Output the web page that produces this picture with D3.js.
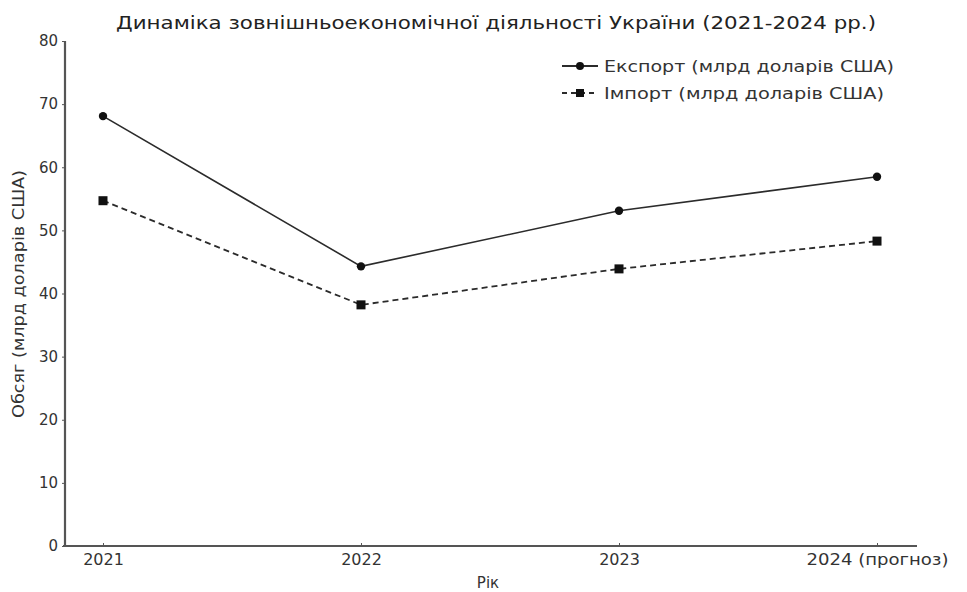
<!DOCTYPE html>
<html>
<head>
<meta charset="utf-8">
<script src="https://cdn.jsdelivr.net/npm/d3@7"></script>
<style>
  html, body { margin: 0; padding: 0; background: #fff; }
  svg { display: block; font-family: "DejaVu Sans", sans-serif; }
</style>
</head>
<body>
<svg id="chart" width="967" height="592"></svg>
<script>
// Data
const years = ["2021", "2022", "2023", "2024 (прогноз)"];
const exportValues = [68.1, 44.3, 53.1, 58.5];
const importValues = [54.7, 38.2, 43.9, 48.3];
const yTicks = [0, 10, 20, 30, 40, 50, 60, 70, 80];
const seriesNames = ["Експорт (млрд доларів США)", "Імпорт (млрд доларів США)"];

const svg = d3.select("#chart");
const x0 = 63, x1 = 917;
const y0 = 546, y1 = 41;

const x = d3.scalePoint().domain(years).range([x0, x1]).padding(0.155);
const y = d3.scaleLinear().domain([0, 80]).range([y0, y1]);

const ink = "#2b2b2b";
const axisColor = "#555";

// Y axis
const yAxis = svg.append("g").attr("transform", `translate(${65},0)`)
  .call(d3.axisLeft(y).tickValues(yTicks).tickSize(3).tickPadding(4));
yAxis.select(".domain").attr("stroke", axisColor).attr("stroke-width", 2.2)
  .attr("d", `M0,${y1}V${y0}`);
yAxis.selectAll(".tick line").attr("stroke", axisColor).attr("stroke-width", 1);
yAxis.selectAll(".tick text").attr("fill", "#333").style("font-size", "15px")
  .style("font-family", "DejaVu Sans, sans-serif");

// X axis
const xAxis = svg.append("g").attr("transform", `translate(0,${y0})`)
  .call(d3.axisBottom(x).tickSizeInner(-3).tickSizeOuter(0).tickPadding(8));
xAxis.select(".domain").attr("stroke", axisColor).attr("stroke-width", 2.2)
  .attr("d", `M${x0},0H${x1}`);
xAxis.selectAll(".tick line").attr("stroke", axisColor).attr("stroke-width", 1);
xAxis.selectAll(".tick text").attr("fill", "#333").style("font-size", "16px")
  .style("font-family", "DejaVu Sans, sans-serif")
  .each(function (d) {
    // the long forecast label is set a little wider
    if (d.length > 4) d3.select(this).attr("textLength", 142).attr("lengthAdjust", "spacingAndGlyphs");
  });

// Lines
const line = d3.line().x((d, i) => x(years[i])).y(d => y(d));

svg.append("path").datum(exportValues)
  .attr("d", line).attr("fill", "none").attr("stroke", ink).attr("stroke-width", 1.6);
svg.append("path").datum(importValues)
  .attr("d", line).attr("fill", "none").attr("stroke", ink).attr("stroke-width", 1.8)
  .attr("stroke-dasharray", "6,4");

svg.selectAll("circle.exp").data(exportValues).enter().append("circle")
  .attr("class", "exp")
  .attr("cx", (d, i) => x(years[i])).attr("cy", d => y(d)).attr("r", 4.2)
  .attr("fill", "#111");
svg.selectAll("rect.imp").data(importValues).enter().append("rect")
  .attr("class", "imp")
  .attr("x", (d, i) => x(years[i]) - 4.5).attr("y", d => y(d) - 4.5)
  .attr("width", 9).attr("height", 9).attr("fill", "#111");

// Title
svg.append("text").attr("x", 496).attr("y", 29).attr("text-anchor", "middle")
  .attr("fill", "#222").style("font-size", "18px")
  .attr("textLength", 760).attr("lengthAdjust", "spacingAndGlyphs")
  .text("Динаміка зовнішньоекономічної діяльності України (2021-2024 pp.)");

// Axis titles
svg.append("text").attr("x", 488).attr("y", 588).attr("text-anchor", "middle")
  .attr("fill", "#333").style("font-size", "15px").text("Рік");
svg.append("text").attr("transform", "translate(24,294) rotate(-90)")
  .attr("text-anchor", "middle").attr("fill", "#333").style("font-size", "16px")
  .attr("textLength", 248).attr("lengthAdjust", "spacingAndGlyphs")
  .text("Обсяг (млрд доларів США)");

// Legend
const legend = svg.append("g");
const rows = [
  { name: seriesNames[0], dash: null, marker: "circle", yy: 66, len: 290 },
  { name: seriesNames[1], dash: "6,4", marker: "rect", yy: 93, len: 280 }
];
rows.forEach(r => {
  legend.append("line").attr("x1", 562).attr("x2", 598).attr("y1", r.yy).attr("y2", r.yy)
    .attr("stroke", ink).attr("stroke-width", 1.8)
    .attr("stroke-dasharray", r.dash ? "5,4" : null);
  if (r.marker === "circle") {
    legend.append("circle").attr("cx", 580).attr("cy", r.yy).attr("r", 4).attr("fill", "#111");
  } else {
    legend.append("rect").attr("x", 576).attr("y", r.yy - 4).attr("width", 8).attr("height", 8).attr("fill", "#111");
  }
  legend.append("text").attr("x", 604).attr("y", r.yy + 6).attr("fill", "#333")
    .style("font-size", "16px")
    .attr("textLength", r.len).attr("lengthAdjust", "spacingAndGlyphs")
    .text(r.name);
});
</script>
</body>
</html>
